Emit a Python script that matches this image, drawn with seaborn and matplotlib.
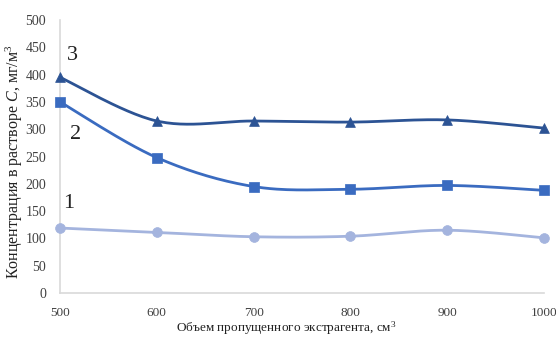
import numpy as np
import pandas as pd
import matplotlib
matplotlib.use("Agg")
import matplotlib.pyplot as plt
import seaborn as sns

# Volume of passed extractant, cm^3
volume = [500, 600, 700, 800, 900, 1000]
# Concentration in solution, mg/m^3, for three curves
curve1 = [119, 111, 103, 104, 115, 101]
curve2 = [350, 248, 195, 190, 197, 188]
curve3 = [395, 315, 315, 313, 317, 302]
curve_names = ["1", "2", "3"]

x_ticks = [500, 600, 700, 800, 900, 1000]
y_ticks = [0, 50, 100, 150, 200, 250, 300, 350, 400, 450, 500]

colors = {"1": "#A4B4DE", "2": "#3A6BC0", "3": "#2C5394"}
markers = {"1": "o", "2": "s", "3": "^"}

df = pd.DataFrame({
    "volume": volume * 3,
    "conc": curve1 + curve2 + curve3,
    "curve": sum([[n] * len(volume) for n in curve_names], []),
})


def smooth_path(xs, ys, n=30):
    """Catmull-Rom smoothing through the points, end points repeated."""
    xs = np.asarray(xs, float)
    ys = np.asarray(ys, float)
    px = np.concatenate([[xs[0]], xs, [xs[-1]]])
    py = np.concatenate([[ys[0]], ys, [ys[-1]]])
    out_x, out_y = [], []
    t = np.linspace(0, 1, n)
    last = len(px) - 3
    for i in range(1, len(px) - 2):
        for arr, out in ((px, out_x), (py, out_y)):
            p0, p1, p2, p3 = arr[i - 1], arr[i], arr[i + 1], arr[i + 2]
            seg = 0.5 * ((2 * p1) + (-p0 + p2) * t
                         + (2 * p0 - 5 * p1 + 4 * p2 - p3) * t ** 2
                         + (-p0 + 3 * p1 - 3 * p2 + p3) * t ** 3)
            out.extend(seg if i == last else seg[:-1])
    return np.array(out_x), np.array(out_y)


sns.set_theme(style="white")
plt.rcParams["font.family"] = ["Liberation Serif", "DejaVu Serif"]
plt.rcParams["mathtext.fontset"] = "custom"
plt.rcParams["mathtext.rm"] = "Liberation Serif"
plt.rcParams["mathtext.it"] = "Liberation Serif:italic"

fig = plt.figure(figsize=(5.56, 3.38), dpi=100)
ax = fig.add_axes([60 / 556, 1 - 293 / 338, (544 - 60) / 556, (293 - 20) / 338])

for name in curve_names:
    sub = df[df["curve"] == name]
    sx, sy = smooth_path(sub["volume"], sub["conc"])
    smooth = pd.DataFrame({"volume": sx, "conc": sy})
    sns.lineplot(data=smooth, x="volume", y="conc", ax=ax, color=colors[name],
                 linewidth=2.0, sort=False, estimator=None)
    sns.scatterplot(data=sub, x="volume", y="conc", ax=ax, color=colors[name],
                    marker=markers[name], s=50, edgecolor=colors[name],
                    linewidth=0.5, clip_on=False, zorder=5)

# Curve numbers
ax.text(513, 435, "3", fontsize=16, color="#222222", ha="center", va="center")
ax.text(516, 290, "2", fontsize=16, color="#222222", ha="center", va="center")
ax.text(509, 164, "1", fontsize=16, color="#222222", ha="center", va="center")

ax.set_xlim(500, 1000)
ax.set_ylim(0, 500)
ax.set_xticks(x_ticks)
ax.set_yticks(y_ticks)
ax.set_xticklabels([str(v) for v in x_ticks], fontsize=9.5, color="#404040")
ax.set_yticklabels([str(v) for v in y_ticks], fontsize=10, color="#404040")
ax.tick_params(axis="both", length=0)
ax.tick_params(axis="x", pad=10)
ax.tick_params(axis="y", pad=10)

for side in ["top", "right"]:
    ax.spines[side].set_visible(False)
for side in ["left", "bottom"]:
    ax.spines[side].set_color("#D9D9D9")
    ax.spines[side].set_linewidth(1.2)
ax.grid(False)

ax.set_xlabel("")
ax.set_ylabel("")
fig.text(286 / 556, 1 - 328 / 338, "Объем пропущенного экстрагента, см$^3$",
         fontsize=9.5, color="#222222", ha="center", va="center")
fig.text(14 / 556, 1 - 162 / 338, "Концентрация в растворе $\\mathit{C}$, мг/м$^3$",
         fontsize=11.5, color="#222222", ha="center", va="center", rotation=90)

fig.savefig("out.png", dpi=100, facecolor="white")
